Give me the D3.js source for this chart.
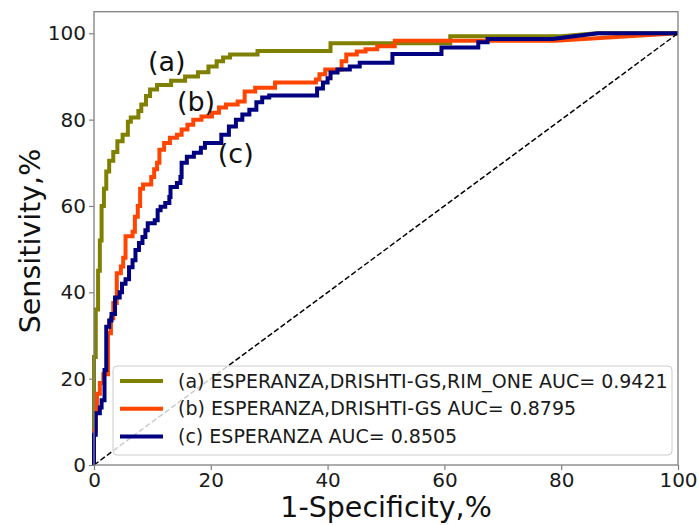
<!DOCTYPE html>
<html>
<head>
<meta charset="utf-8">
<script src="https://cdn.jsdelivr.net/npm/d3@7"></script>
<style>
  body { margin: 0; background: #fff; }
  text { font-family: "DejaVu Sans", sans-serif; }
</style>
</head>
<body>
<div id="chart"></div>
<script>
// ROC points: [1-specificity %, sensitivity %]
var rocA = [[0,0],[0,25],[0.3,25],[0.3,36],[0.7,36],[0.7,45],[1.0,45],[1.0,52],[1.3,52],[1.3,60],
  [1.7,60],[1.7,64],[2.1,64],[2.1,68],[2.6,68],[2.6,70.5],[3.3,70.5],[3.3,72.5],[4.0,72.5],[4.0,75],
  [4.9,75],[4.9,76.5],[5.8,76.5],[5.8,79.5],[6.3,79.5],[6.3,80.5],[7.6,80.5],[7.6,82],[8.1,82],[8.1,83.5],
  [8.9,83.5],[8.9,85.5],[9.6,85.5],[9.6,87],[10.8,87],[10.8,88],[13.2,88],[13.2,89],[15.6,89],[15.6,90],
  [17.8,90],[17.8,91],[19.6,91],[19.6,92.3],[21,92.3],[21,93.5],[22.1,93.5],[22.1,94.4],[23.3,94.4],[23.3,95.1],
  [28,95.1],[28,95.9],[40.5,95.9],[40.5,97.7],[61,97.7],[61,99.3],[80,99.3],[86,100],[100,100]];

var rocB = [[0,0],[0,8],[0.3,8],[0.3,12.5],[0.5,12.5],[0.5,16.5],[1.0,16.5],[1.0,19],[1.6,19],[1.6,21],
  [2.4,21],[2.4,30.5],[2.9,30.5],[2.9,34],[3.3,34],[3.3,37.5],[3.9,37.5],[3.9,44.4],[4.6,44.4],[4.6,46],
  [5.0,46],[5.0,48],[5.4,48],[5.4,53],[6.6,53],[6.6,54],[7.0,54],[7.0,57.5],[7.5,57.5],[7.5,60],
  [7.9,60],[7.9,64],[8.4,64],[8.4,65],[9.8,65],[9.8,66.7],[10.3,66.7],[10.3,68.5],[10.8,68.5],[10.8,70],
  [11.2,70],[11.2,73],[12.0,73],[12.0,74.6],[13.0,74.6],[13.0,75.8],[14.2,75.8],[14.2,76.5],[15.0,76.5],[15.0,77.7],
  [16.0,77.7],[16.0,78.8],[17.0,78.8],[17.0,80],[18.4,80],[18.4,80.7],[20.2,80.7],[20.2,81.6],[21.4,81.6],[21.4,82.8],
  [22.6,82.8],[22.6,83.5],[24.6,83.5],[24.6,84.2],[25.8,84.2],[25.8,86.5],[27.6,86.5],[27.6,87.4],[31,87.4],[31,88.6],
  [38,88.6],[38,89.3],[38.6,89.3],[38.6,90.5],[39.6,90.5],[39.6,91.6],[42.4,91.6],[42.4,93.5],[43.2,93.5],[43.2,95.1],
  [45,95.1],[45,95.8],[46.5,95.8],[46.5,96.3],[48.5,96.3],[48.5,97],[51.5,97],[51.5,98.3],[79,98.3],[100,100]];

var rocC = [[0,0],[0,7],[0.3,7],[0.3,12],[1.0,12],[1.0,13.3],[1.3,13.3],[1.3,15],[1.8,15],[1.8,22],
  [2.1,22],[2.1,32],[2.6,32],[2.6,33.5],[3.0,33.5],[3.0,35],[3.6,35],[3.6,38.8],[4.4,38.8],[4.4,40],
  [4.8,40],[4.8,42],[5.4,42],[5.4,43],[6.0,43],[6.0,45.8],[6.6,45.8],[6.6,47.4],[7.1,47.4],[7.1,49.8],
  [7.7,49.8],[7.7,51.4],[8.3,51.4],[8.3,52.8],[8.8,52.8],[8.8,54.4],[9.2,54.4],[9.2,56],[10.4,56],[10.4,56.7],
  [10.9,56.7],[10.9,59],[11.4,59],[11.4,59.8],[12.2,59.8],[12.2,60.7],[12.9,60.7],[12.9,62.1],[13.1,62.1],[13.1,64.4],
  [14.2,64.4],[14.2,65.3],[14.8,65.3],[14.8,66.7],[15.0,66.7],[15.0,70],[15.9,70],[15.9,71.4],[17.1,71.4],[17.1,72.3],
  [18.3,72.3],[18.3,73.5],[19.0,73.5],[19.0,74.6],[21.8,74.6],[21.8,76.5],[23.1,76.5],[23.1,78.4],[24.3,78.4],[24.3,80],
  [25.4,80],[25.4,81.2],[26.6,81.2],[26.6,82.3],[27.8,82.3],[27.8,84],[28.8,84],[28.8,85.1],[30,85.1],[30,85.6],
  [38.2,85.6],[38.2,87.2],[39.2,87.2],[39.2,88.6],[40,88.6],[40,89.6],[40.5,89.6],[40.5,90.9],[41.7,90.9],[41.7,91.6],
  [43.8,91.6],[43.8,92.3],[45.5,92.3],[45.5,93.2],[51.1,93.2],[51.1,95.2],[59.5,95.2],[59.5,96.7],[65.8,96.7],[65.8,97.9],
  [67.4,97.9],[67.4,98.7],[78.5,98.7],[86.3,100],[100,100]];

var chance = [[0,0],[100,100]];

var seriesNames = ["(a) ESPERANZA,DRISHTI-GS,RIM_ONE AUC= 0.9421",
                   "(b) ESPERANZA,DRISHTI-GS AUC= 0.8795",
                   "(c) ESPERANZA AUC= 0.8505"];
var seriesColors = ["#808000", "#ff4500", "#000080"];

// curve tags drawn inside the plot, at data coordinates
var tagLabels = ["(a)", "(b)", "(c)"];
var tagX = [9.25, 14.2, 21.2];
var tagY = [91.3, 82.1, 70];

var xTicks = [0, 20, 40, 60, 80, 100];
var yTicks = [0, 20, 40, 60, 80, 100];

// Chart dimensions
var W = 699, H = 525;
var margin = {top: 11.7, left: 94};
var width = 584, height = 453.3;

var svg = d3.select("#chart").append("svg")
    .attr("width", W)
    .attr("height", H);

var g = svg.append("g")
    .attr("transform", "translate(" + margin.left + "," + margin.top + ")");

var x = d3.scaleLinear().domain([0, 100]).range([0, width]);
var y = d3.scaleLinear().domain([0, 105]).range([height, 0]);

var line = d3.line()
    .x(function(d) { return x(d[0]); })
    .y(function(d) { return y(d[1]); });

// curves
[rocA, rocB, rocC].forEach(function(roc, i) {
    g.append("path")
        .datum(roc)
        .attr("d", line)
        .attr("fill", "none")
        .attr("stroke", seriesColors[i])
        .attr("stroke-width", 4)
        .attr("stroke-linejoin", "miter");
});

// chance line
g.append("path")
    .datum(chance)
    .attr("d", line)
    .attr("fill", "none")
    .attr("stroke", "#000")
    .attr("stroke-width", 1.5)
    .attr("stroke-dasharray", "5.5,2.5");

// curve tags
g.selectAll(".tag")
    .data(tagLabels)
    .enter().append("text")
    .attr("class", "tag")
    .attr("x", function(d, i) { return x(tagX[i]); })
    .attr("y", function(d, i) { return y(tagY[i]); })
    .style("font-size", "27px")
    .attr("fill", "#111")
    .text(function(d) { return d; });

// axes
var xAxis = g.append("g")
    .attr("transform", "translate(0," + height + ")")
    .call(d3.axisBottom(x).tickValues(xTicks).tickSize(5).tickPadding(3).tickSizeOuter(0));
var yAxis = g.append("g")
    .call(d3.axisLeft(y).tickValues(yTicks).tickSize(5).tickPadding(3).tickSizeOuter(0));

[xAxis, yAxis].forEach(function(ax) {
    ax.select(".domain").remove();
    ax.selectAll("line").attr("stroke", "#808080").attr("stroke-width", 1.2);
    ax.selectAll("text")
        .style("font-family", "DejaVu Sans")
        .style("font-size", "20px")
        .attr("fill", "#1a1a1a");
});

// frame
g.append("rect")
    .attr("width", width)
    .attr("height", height)
    .attr("fill", "none")
    .attr("stroke", "#808080")
    .attr("stroke-width", 1.3);

// axis labels
svg.append("text")
    .attr("x", margin.left + width / 2)
    .attr("y", 517)
    .attr("text-anchor", "middle")
    .style("font-size", "28.5px")
    .attr("fill", "#111")
    .text("1-Specificity,%");

svg.append("text")
    .attr("transform", "translate(40," + 241 + ") rotate(-90)")
    .attr("text-anchor", "middle")
    .style("font-size", "28.5px")
    .attr("fill", "#111")
    .text("Sensitivity,%");

// legend (lower right)
var legend = g.append("g")
    .attr("transform", "translate(" + (113 - margin.left) + "," + (366 - margin.top) + ")");

legend.append("rect")
    .attr("width", 559)
    .attr("height", 89)
    .attr("rx", 4)
    .attr("fill", "#fff")
    .attr("fill-opacity", 0.8)
    .attr("stroke", "#cccccc")
    .attr("stroke-width", 1);

var items = legend.selectAll(".item")
    .data(seriesNames)
    .enter().append("g")
    .attr("class", "item")
    .attr("transform", function(d, i) { return "translate(0," + (15 + i * 27.7) + ")"; });

items.append("line")
    .attr("x1", 7).attr("x2", 50)
    .attr("stroke", function(d, i) { return seriesColors[i]; })
    .attr("stroke-width", 4);

items.append("text")
    .attr("x", 65)
    .attr("dy", "0.35em")
    .style("font-size", "19px")
    .attr("fill", "#1a1a1a")
    .text(function(d) { return d; });
</script>
</body>
</html>
